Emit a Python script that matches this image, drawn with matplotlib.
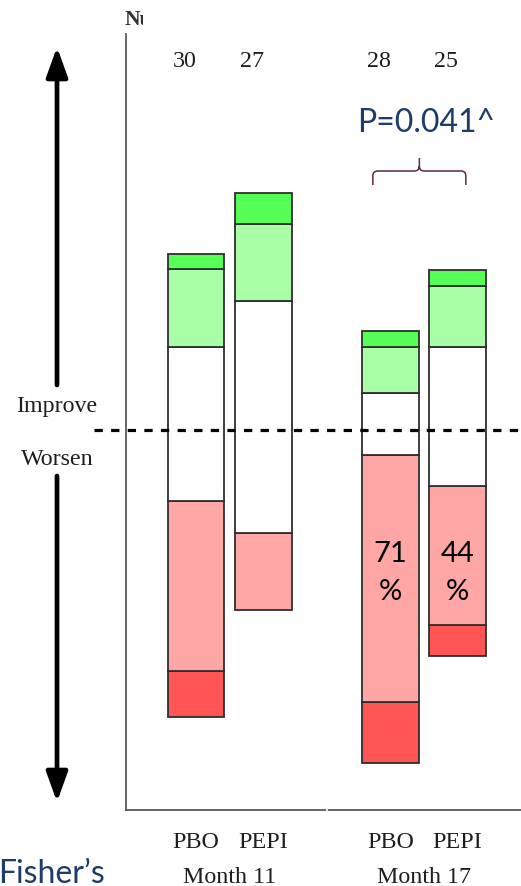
import matplotlib
matplotlib.use("Agg")
import matplotlib.pyplot as plt
import matplotlib.transforms as mtransforms
from matplotlib.path import Path
from matplotlib.patches import PathPatch, Rectangle
import numpy as np

# ---- data: patient counts per response category ----
groups = ["Month 11", "Month 17"]
arms = ["PBO", "PEPI", "PBO", "PEPI"]
n_patients = [30, 27, 28, 25]
much_worse = [3, 0, 4, 2]
worse = [11, 5, 16, 9]
no_change = [10, 15, 4, 9]
better = [5, 5, 3, 4]
much_better = [1, 2, 1, 1]
neutral_shift = [0.4, 0.85, 0.4, 0.85]
p_value_text = "P=0.041^"

colors = {
    "much_worse": "#FF5555",
    "worse": "#FFA6A6",
    "no_change": "#FFFFFF",
    "better": "#A9FFA6",
    "much_better": "#55FF55",
}

W, H = 521, 887
fig = plt.figure(figsize=(W / 100, H / 100), dpi=100)
fig.patch.set_facecolor("white")

serif = "Liberation Serif"
sans = "Lato"
navy = "#1F3B6A"
txt = "#1E1E1E"
fs_serif = 17.3

# main axes
ax_l, ax_r, ax_t, ax_b = 126, 521, 35, 811
ax = fig.add_axes([ax_l / W, (H - ax_b) / H, (ax_r - ax_l) / W, (ax_b - ax_t) / H])
ax.set_xlim(-1.045, 4.85)
ax.set_ylim(-24.63, 25.66)
ax.patch.set_alpha(0)
for s in ["top", "right"]:
    ax.spines[s].set_visible(False)
for s in ["left", "bottom"]:
    ax.spines[s].set_color("#5A5A5A")
    ax.spines[s].set_linewidth(1.3)
ax.set_xticks([])
ax.set_yticks([])

xpos = np.array([0.0, 1.0, 2.9, 3.9])
width = 0.85

# diverging stacked bars: no-change block straddles the zero line
segments = [
    ("much_worse", much_worse),
    ("worse", worse),
    ("no_change", no_change),
    ("better", better),
    ("much_better", much_better),
]
for i, x in enumerate(xpos):
    bottom = -(much_worse[i] + worse[i] + no_change[i] / 2) + neutral_shift[i]
    for key, vals in segments:
        v = vals[i]
        if v == 0:
            continue
        ax.bar(x, v, width=width, bottom=bottom, color=colors[key],
               edgecolor="#2E2E2E", linewidth=1.3, zorder=3)
        bottom += v

# zero line (improve / worsen boundary)
ax.plot([(94 - ax_l) / (ax_r - ax_l), 1.0], [0, 0],
        transform=mtransforms.blended_transform_factory(ax.transAxes, ax.transData),
        color="black", lw=2.3, ls=(0, (2.6, 2.6)), clip_on=False, zorder=5)

# overlay axes in pixel coordinates for annotations outside the plot area
ov = fig.add_axes([0, 0, 1, 1])
ov.set_xlim(0, W)
ov.set_ylim(H, 0)
ov.axis("off")
ov.patch.set_alpha(0)

def px(xd):
    return ax.transData.transform((xd, 0))[0]

bx = mtransforms.blended_transform_factory(ax.transData, ov.transData)

# gap in the baseline between the two month groups
ov.plot([326.5, 326.5], [809, 813], color="white", lw=1.2, zorder=6)

# column header, cut off on the right by a white mask
ov.text(125, 25, "Nu", fontsize=15.5, family=serif, fontweight="bold",
        color="#333333", ha="left", va="baseline", zorder=2)
ov.add_patch(Rectangle((143, 2), 20, 30, facecolor="white", edgecolor="none",
                       zorder=3))

# patient counts
for x, n in zip(xpos, n_patients):
    ax.text(x - 0.17, 67, str(n), transform=bx, fontsize=fs_serif, family=serif,
            color=txt, ha="center", va="baseline")

# arm and month labels
for x, a in zip(xpos, arms):
    ax.text(x, 848, a, transform=bx, fontsize=fs_serif, family=serif,
            color=txt, ha="center", va="baseline")
for g, (a, b) in zip(groups, [(0, 1), (2, 3)]):
    ax.text((xpos[a] + xpos[b]) / 2, 883, g, transform=bx, fontsize=fs_serif,
            family=serif, color=txt, ha="center", va="baseline")

# improve / worsen side arrow
ov.text(57, 412, "Improve", fontsize=fs_serif, family=serif, color=txt,
        ha="center", va="baseline")
ov.text(57, 465, "Worsen", fontsize=fs_serif, family=serif, color=txt,
        ha="center", va="baseline")
astyle = dict(arrowstyle="-|>,head_length=1.0,head_width=0.36", lw=3.4,
              color="black", shrinkA=0, shrinkB=0, mutation_scale=18)
ov.annotate("", xy=(57, 48), xytext=(57, 386), arrowprops=astyle)
ov.annotate("", xy=(57, 803), xytext=(57, 477), arrowprops=astyle)

# percent worsened at month 17
for i in (2, 3):
    pct = round(100 * (much_worse[i] + worse[i]) / n_patients[i])
    ax.text(xpos[i], 554, f"{pct}", transform=bx, fontsize=21, family=sans,
            color="black", ha="center", va="center")
    ax.text(xpos[i], 592, "%", transform=bx, fontsize=21, family=sans,
            color="black", ha="center", va="center")

# significance bracket
xl = px(xpos[2]) - 17.5
xr = px(xpos[3]) + 8.5
xm = (xl + xr) / 2
yb, yh, yt = 186, 172, 159
r = 5
verts = [
    (xl, yb), (xl, yh + r), (xl, yh), (xl + r, yh),
    (xm - r, yh), (xm, yh), (xm, yh - r),
    (xm, yt),
    (xm, yh - r), (xm, yh), (xm + r, yh),
    (xr - r, yh), (xr, yh), (xr, yh + r),
    (xr, yb),
]
codes = [Path.MOVETO, Path.LINETO, Path.CURVE3, Path.CURVE3,
         Path.LINETO, Path.CURVE3, Path.CURVE3,
         Path.LINETO,
         Path.MOVETO, Path.CURVE3, Path.CURVE3,
         Path.LINETO, Path.CURVE3, Path.CURVE3,
         Path.LINETO]
ov.add_patch(PathPatch(Path(verts, codes), fill=False, edgecolor="#5B2A48", lw=1.1))

ov.text(426, 123, p_value_text, fontsize=23, family=sans, color=navy,
        ha="center", va="center")

# footnote (runs off the left edge)
ov.text(105, 883, "Fisher\u2019s", fontsize=23, family=sans, color=navy,
        ha="right", va="baseline")

fig.savefig("out.png", dpi=100, facecolor="white")
